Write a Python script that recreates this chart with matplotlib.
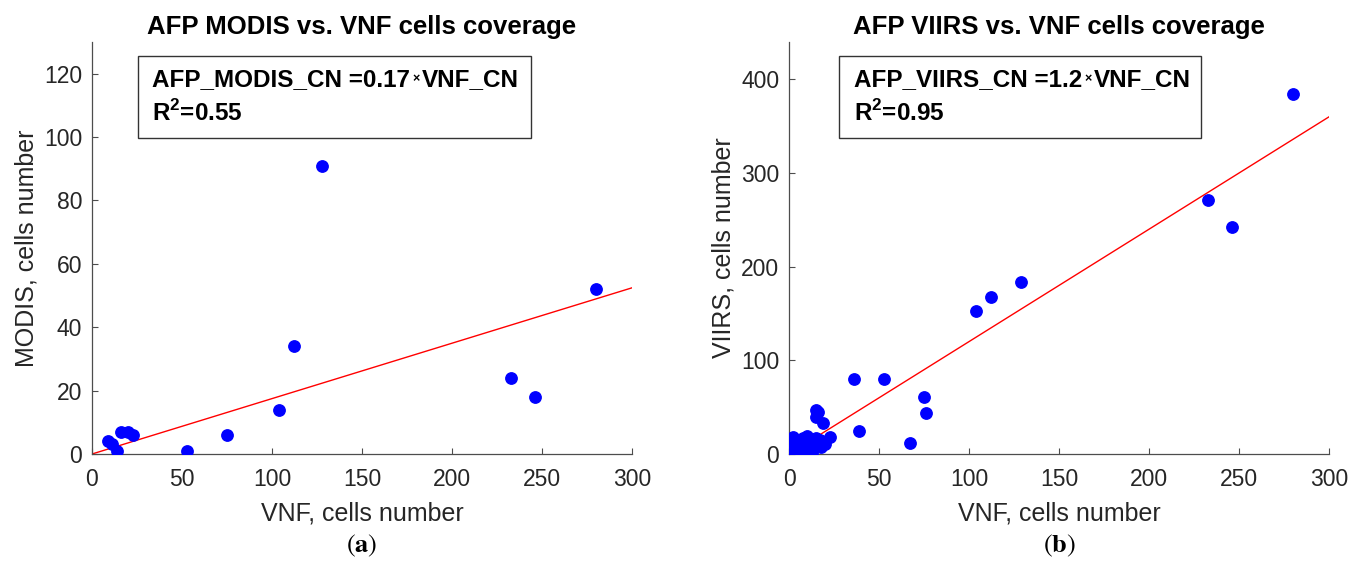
import numpy as np
import matplotlib
matplotlib.use("Agg")
import matplotlib.pyplot as plt
from matplotlib.patches import Rectangle

plt.rcParams["font.family"] = ["Liberation Sans", "DejaVu Sans"]
plt.rcParams["mathtext.fontset"] = "custom"
plt.rcParams["mathtext.rm"] = "Liberation Sans"
plt.rcParams["mathtext.bf"] = "Liberation Sans:bold"

# panel (a): AFP MODIS vs VNF cell counts
modis_vnf = [9, 11, 14, 16, 20, 23, 53, 75, 104, 112, 128, 233, 246, 280]
modis_cn = [4, 3, 1, 7, 7, 6, 1, 6, 14, 34, 91, 24, 18, 52]

# panel (b): AFP VIIRS vs VNF cell counts
viirs_vnf = [280, 233, 246, 129, 112, 104, 36, 53, 75, 76, 39, 67, 23, 19, 15,
             16, 15, 2, 10, 15, 1, 5, 12, 18, 3, 6, 13, 1, 12, 17,
             2, 4, 8, 8, 14, 20, 7, 1]
viirs_cn = [384, 271, 242, 184, 168, 153, 80, 80, 61, 44, 25, 12, 18, 33, 47,
            45, 40, 18, 19, 17, 6, 4, 4, 7, 11, 1, 1, 15, 13, 15,
            8, 14, 3, 17, 10, 11, 9, 3]

titles = ["AFP MODIS vs. VNF cells coverage", "AFP VIIRS vs. VNF cells coverage"]
ylabels = ["MODIS, cells number", "VIIRS, cells number"]
eq_texts = ["AFP_MODIS_CN =0.17", "AFP_VIIRS_CN =1.2"]
r2_texts = [r"R$^{\mathbf{2}}$=0.55", r"R$^{\mathbf{2}}$=0.95"]
captions = ["a", "b"]
ylims = [130, 440]
yticks = [np.arange(0, 121, 20), np.arange(0, 401, 100)]

W, H = 1364, 562
fig = plt.figure(figsize=(W / 100, H / 100), dpi=100)
lefts = [92, 789]
panels = [(modis_vnf, modis_cn), (viirs_vnf, viirs_cn)]
gray = "#262626"

for i, (xs, ys) in enumerate(panels):
    ax = fig.add_axes([lefts[i] / W, 1 - 454 / H, 540 / W, 412 / H])
    x = np.array(xs, dtype=float)
    y = np.array(ys, dtype=float)
    slope = np.sum(x * y) / np.sum(x * x)
    xx = np.array([0, 300])
    ax.plot(xx, slope * xx, color="red", lw=1.0, zorder=2)
    ax.plot(x, y, "o", color="blue", ms=8.2, mec="blue", zorder=3)

    ax.set_xlim(0, 300)
    ax.set_ylim(0, ylims[i])
    ax.set_xticks(np.arange(0, 301, 50))
    ax.set_yticks(yticks[i])
    for s in ["top", "right"]:
        ax.spines[s].set_visible(False)
    for s in ["left", "bottom"]:
        ax.spines[s].set_color("#4d4d4d")
        ax.spines[s].set_linewidth(0.9)
    ax.tick_params(direction="in", length=4, width=0.8, color="#4d4d4d",
                   labelsize=16.5, labelcolor=gray)
    ax.tick_params(axis="x", pad=10)
    ax.tick_params(axis="y", pad=7)
    ax.set_xlabel("VNF, cells number", fontsize=18, color=gray, labelpad=8)
    ax.set_ylabel(ylabels[i], fontsize=18, color=gray, labelpad=4)
    ax.set_title(titles[i], fontsize=18.5, fontweight="bold", pad=6)

    # equation box
    bx0 = 0.085 if i == 0 else 0.093
    bx1 = 0.813 if i == 0 else 0.763
    ax.add_patch(Rectangle((bx0, 0.767), bx1 - bx0, 0.966 - 0.767,
                           transform=ax.transAxes, fill=True, fc="white",
                           ec="#333333", lw=1.0, zorder=4, clip_on=False))
    t = ax.text(bx0 + 0.027, 0.909, eq_texts[i], transform=ax.transAxes,
                fontsize=17.5, fontweight="bold", va="center", ha="left", zorder=5)
    t2 = ax.annotate("\u00d7", xycoords=t, xy=(1, 0.5), xytext=(1.5, 0),
                     textcoords="offset points", fontsize=9, fontweight="bold",
                     va="center", ha="left", zorder=5)
    ax.annotate("VNF_CN", xycoords=t2, xy=(1, 0.5), xytext=(1.5, 0),
                textcoords="offset points", fontsize=17.5, fontweight="bold",
                va="center", ha="left", zorder=5)
    ax.text(bx0 + 0.027, 0.827, r2_texts[i], transform=ax.transAxes,
            fontsize=17.5, fontweight="bold", va="center", ha="left", zorder=5)

    fig.text((lefts[i] + 270) / W, 1 - 546 / H, r"$(\mathbf{%s})$" % captions[i],
             fontsize=19, ha="center", va="center", math_fontfamily="stix")

fig.savefig("out.png", dpi=100)
print("Saved out.png")
